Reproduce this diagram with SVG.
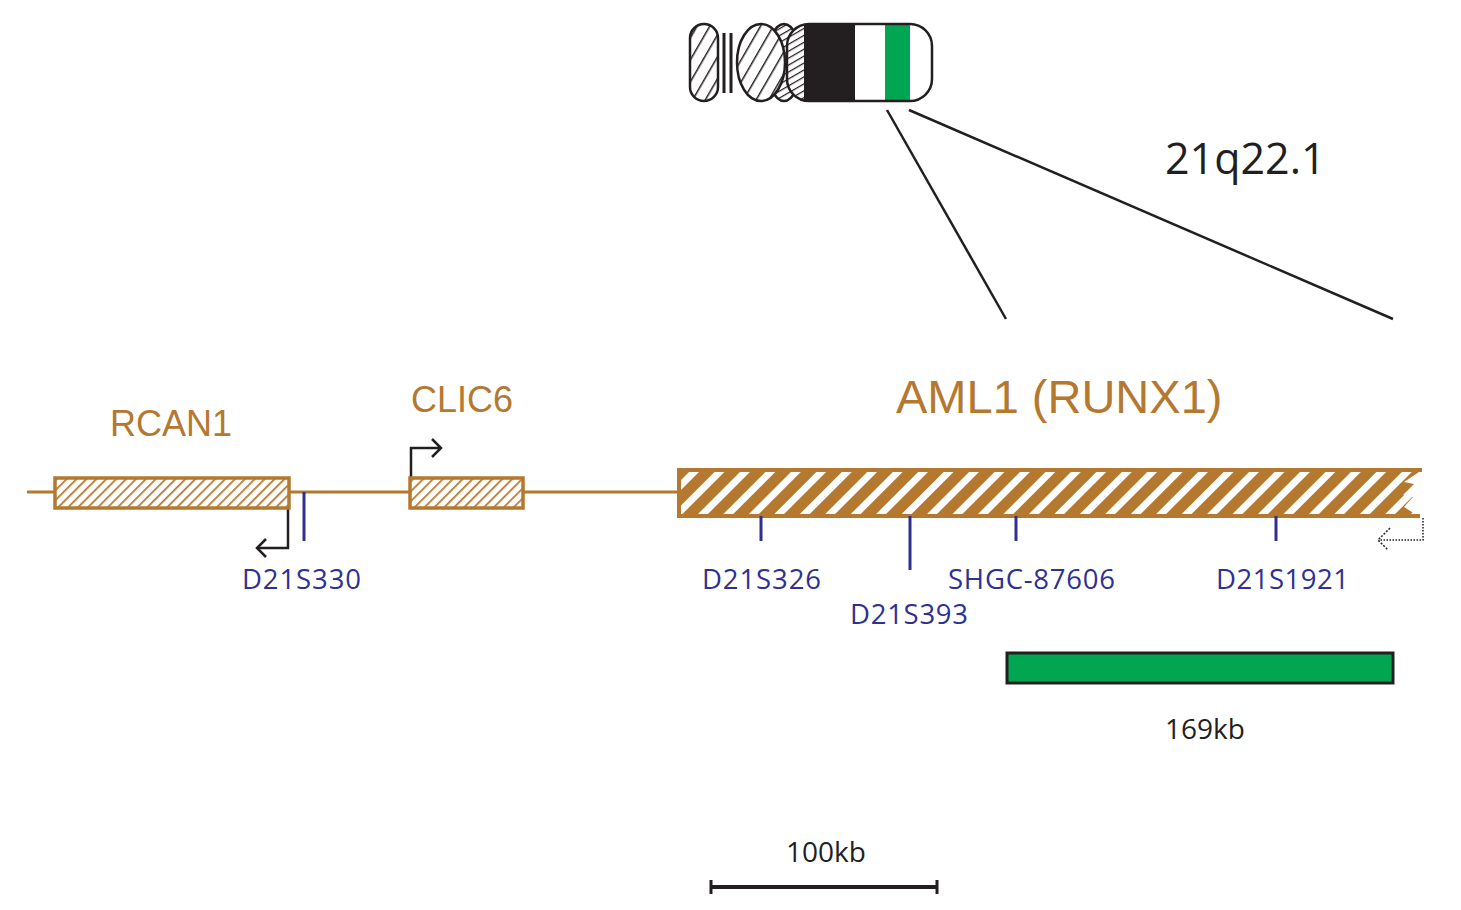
<svg xmlns="http://www.w3.org/2000/svg" width="1461" height="910" viewBox="0 0 1461 910">
<style>
.g{fill:#b5782f;font-family:"Liberation Sans",Arial,sans-serif}
.m{fill:#2e3192;font-family:"Open Sans","Liberation Sans",sans-serif;font-size:27.5px}
.k{fill:#231f20;font-family:"Open Sans","Liberation Sans",sans-serif}
.gl{stroke:#b5782f;stroke-width:3;fill:none}
.bm{stroke:#2e3192;stroke-width:3}
.blk{stroke:#231f20;stroke-width:2.5;fill:none}
</style>
<defs>
<pattern id="h1" patternUnits="userSpaceOnUse" width="7" height="7" patternTransform="rotate(45)"><rect width="7" height="7" fill="#fff"/><line x1="0" y1="0" x2="0" y2="7" stroke="#b5782f" stroke-width="3.5"/></pattern>
<pattern id="h2" patternUnits="userSpaceOnUse" width="18" height="18" patternTransform="rotate(45)"><rect width="18" height="18" fill="#fff"/><line x1="0" y1="0" x2="0" y2="18" stroke="#b5782f" stroke-width="22"/></pattern>
<pattern id="hc" patternUnits="userSpaceOnUse" width="11" height="11" patternTransform="rotate(30)"><rect width="11" height="11" fill="#fff"/><line x1="0" y1="0" x2="0" y2="11" stroke="#231f20" stroke-width="3"/></pattern>
<pattern id="hf" patternUnits="userSpaceOnUse" width="6" height="6" patternTransform="rotate(60)"><rect width="6" height="6" fill="#fff"/><line x1="0" y1="0" x2="0" y2="6" stroke="#231f20" stroke-width="2.5"/></pattern>
<clipPath id="cq"><rect x="787" y="24" width="145" height="77" rx="22"/></clipPath>
</defs>
<g id="chromosome">
<rect x="690" y="24" width="28" height="77" rx="14" fill="url(#hc)" stroke="#231f20" stroke-width="2.5"/>
<line x1="724" y1="33" x2="724" y2="93" stroke="#231f20" stroke-width="3"/>
<line x1="731" y1="33" x2="731" y2="93" stroke="#231f20" stroke-width="3"/>
<ellipse cx="784" cy="62.5" rx="17" ry="38.5" fill="url(#hf)" stroke="#231f20" stroke-width="2.5"/>
<ellipse cx="761" cy="62.5" rx="24" ry="38.5" fill="url(#hc)" stroke="#231f20" stroke-width="2.5"/>
<g clip-path="url(#cq)">
<rect x="787" y="24" width="145" height="77" fill="url(#hf)"/>
<rect x="804" y="24" width="128" height="77" fill="#fff"/>
<rect x="804" y="24" width="51" height="77" fill="#231f20"/>
<rect x="885" y="24" width="25" height="77" fill="#00a651"/>
</g>
<rect x="787" y="24" width="145" height="77" rx="22" fill="none" stroke="#231f20" stroke-width="2.5"/>
<text class="k" x="1165" y="174" font-size="43">21q22.1</text>
</g>
<g id="connectors">
<line x1="887" y1="110" x2="1006" y2="319" stroke="#231f20" stroke-width="2.5"/>
<line x1="909" y1="110" x2="1393" y2="319" stroke="#231f20" stroke-width="2.5"/>
<line class="gl" x1="27" y1="492" x2="680" y2="492"/>
<polyline class="blk" points="288,508 288,548 258,548"/>
<polyline class="blk" points="266,539 257,548 266,557"/>
<polyline class="blk" points="411,477 411,448 440,448"/>
<polyline class="blk" points="432,439 441,448 432,457"/>
<polyline points="1423,518 1423,540 1380,540" fill="none" stroke="#231f20" stroke-width="1.5" stroke-dasharray="1.5,1.5"/>
<polyline points="1390,528 1378,540 1388,550" fill="none" stroke="#231f20" stroke-width="1.5" stroke-dasharray="2,1.5"/>
</g>
<g id="RCAN1">
<rect x="55" y="478" width="234" height="30" fill="url(#h1)" stroke="#b5782f" stroke-width="3.5"/>
<text class="g" x="110" y="436" font-size="36">RCAN1</text>
</g>
<g id="CLIC6">
<rect x="410" y="478" width="113" height="30" fill="url(#h1)" stroke="#b5782f" stroke-width="3.5"/>
<text class="g" x="411" y="412" font-size="36">CLIC6</text>
</g>
<g id="AML1">
<path d="M679,470 L1422,470 L1404,482 L1414,484 L1403,495 L1413,497 L1404,507 L1420,517 L679,517 Z" fill="url(#h2)"/>
<path d="M1422,470 L679,470 L679,516 L1420,516" fill="none" stroke="#b5782f" stroke-width="4"/>
<text class="g" x="896" y="413" font-size="47">AML1 (RUNX1)</text>
</g>
<g id="markers">
<line class="bm" x1="304" y1="492" x2="304" y2="541"/>
<line class="bm" x1="761" y1="516" x2="761" y2="541"/>
<line class="bm" x1="910" y1="516" x2="910" y2="570"/>
<line class="bm" x1="1016" y1="516" x2="1016" y2="541"/>
<line class="bm" x1="1276" y1="516" x2="1276" y2="541"/>
<text class="m" x="242" y="589" textLength="119">D21S330</text>
<text class="m" x="702" y="589" textLength="119">D21S326</text>
<text class="m" x="850" y="624" textLength="118">D21S393</text>
<text class="m" x="948" y="589" textLength="167">SHGC-87606</text>
<text class="m" x="1216" y="589" textLength="133">D21S1921</text>
</g>
<g id="region">
<rect x="1007" y="653" width="386" height="30" fill="#00a651" stroke="#231f20" stroke-width="3"/>
<text class="k" x="1165" y="739" font-size="28">169kb</text>
</g>
<g id="scale">
<line x1="710" y1="887" x2="938" y2="887" stroke="#231f20" stroke-width="4"/>
<line x1="711" y1="880" x2="711" y2="894" stroke="#231f20" stroke-width="3"/>
<line x1="937" y1="880" x2="937" y2="894" stroke="#231f20" stroke-width="3"/>
<text class="k" x="786" y="862" font-size="28">100kb</text>
</g>
</svg>
